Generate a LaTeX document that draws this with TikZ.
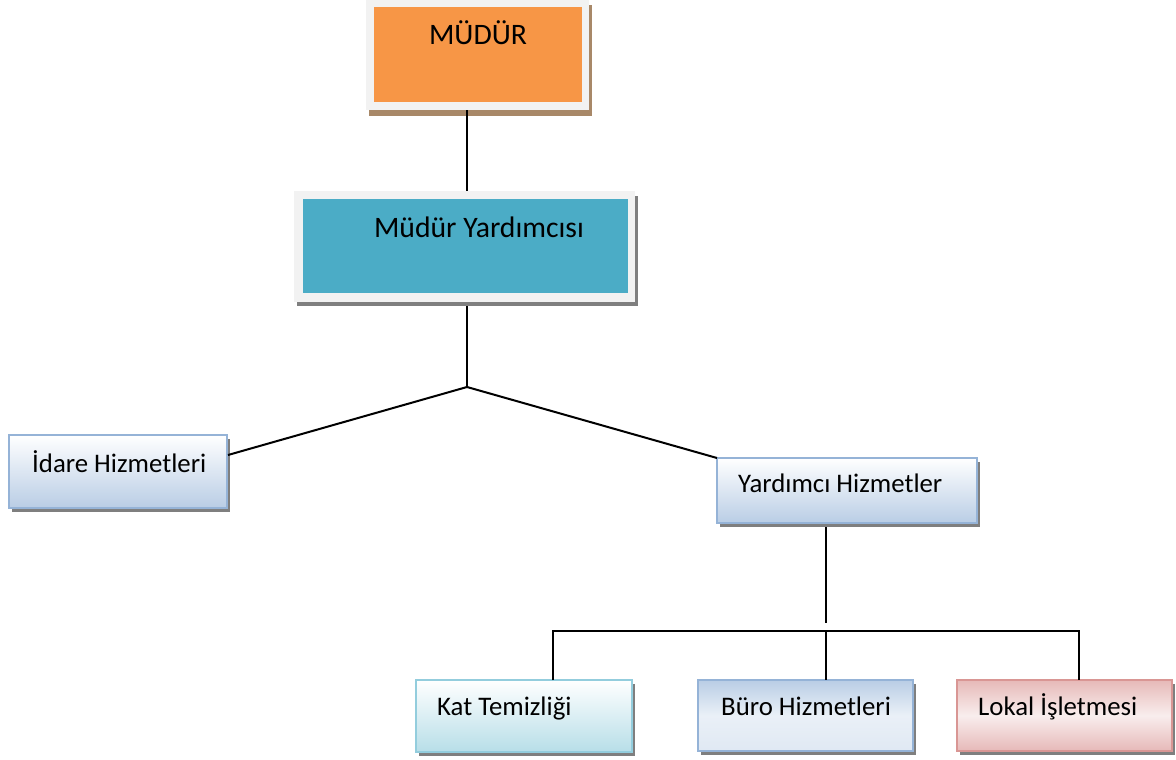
\documentclass[tikz,border=0pt]{standalone}
\usepackage{fontspec}
\setmainfont{Carlito}
\definecolor{orangeF}{HTML}{F79646}
\definecolor{tealF}{HTML}{4BACC6}
\definecolor{frameF}{HTML}{F2F2F2}
\definecolor{shadowB}{HTML}{A88868}
\definecolor{shadowG}{HTML}{7F7F7F}
\definecolor{blueB}{HTML}{95B3D7}
\definecolor{blueL}{HTML}{B9CDE5}
\definecolor{cyanB}{HTML}{93CDDD}
\definecolor{cyanL}{HTML}{B7DEE8}
\definecolor{redB}{HTML}{D99694}
\definecolor{redL}{HTML}{E6B9B8}
\tikzset{
  box/.style={rectangle, inner sep=0pt, outer sep=0pt, line width=1.5pt},
  bigtxt/.style={anchor=base, inner sep=0pt, font=\fontsize{29.7}{32}\selectfont},
  smalltxt/.style={anchor=base west, inner sep=0pt, font=\fontsize{26.8}{29}\selectfont},
  conn/.style={draw=black, line width=2pt},
}
\begin{document}
\begin{tikzpicture}[x=1pt,y=-1pt]
\useasboundingbox (0,0) rectangle (1176,760);
% ---------- MUDUR
\fill[shadowB] (369,5) rectangle (592,116);
\node[box, fill=frameF, minimum width=223pt, minimum height=110pt, anchor=north west] (mudurF) at (366,0) {};
\node[box, fill=orangeF, minimum width=208pt, minimum height=95pt, anchor=north west] (mudur) at (374,7) {};
\node[bigtxt] (mudurT) at (478,45) {MÜDÜR};
% ---------- Mudur Yardimcisi
\fill[shadowG] (297,196) rectangle (638,306);
\node[box, fill=frameF, minimum width=341pt, minimum height=111pt, anchor=north west] (yardF) at (294,191) {};
\node[box, fill=tealF, minimum width=325pt, minimum height=94pt, anchor=north west] (yard) at (303,199) {};
\node[bigtxt] (yardT) at (479,237) {Müdür Yardımcısı};
% ---------- Idare
\fill[shadowG] (12,439) rectangle (230,512);
\node[box, draw=blueB, top color=white, bottom color=blueL, minimum width=218pt, minimum height=73pt, anchor=north west] (idare) at (9,435) {};
\node[smalltxt] (idareT) at (32,472) {İdare Hizmetleri};
% ---------- Yardimci Hizmetler
\fill[shadowG] (720,462) rectangle (980,527);
\node[box, draw=blueB, top color=white, bottom color=blueL, minimum width=260pt, minimum height=65pt, anchor=north west] (yh) at (717,458) {};
\node[smalltxt] (yhT) at (738,492) {Yardımcı Hizmetler};
% ---------- Kat Temizligi
\fill[shadowG] (419,684) rectangle (635,756);
\node[box, draw=cyanB, top color=white, bottom color=cyanL, minimum width=216pt, minimum height=72pt, anchor=north west] (kat) at (416,680) {};
\node[smalltxt] (katT) at (437,715) {Kat Temizliği};
% ---------- Buro Hizmetleri
\fill[shadowG] (701,684) rectangle (916,755);
\node[box, draw=blueB, top color=blueL, bottom color=blueL!45!white, middle color=blueL!30!white, minimum width=215pt, minimum height=71pt, anchor=north west] (buro) at (698,680) {};
\node[smalltxt] (buroT) at (721,715) {Büro Hizmetleri};
% ---------- Lokal Isletmesi
\fill[shadowG] (960,684) rectangle (1175,755);
\node[box, draw=redB, top color=redL, bottom color=redL, middle color=redL!25!white, minimum width=215pt, minimum height=71pt, anchor=north west] (lokal) at (957,680) {};
\node[smalltxt] (lokalT) at (978,715) {Lokal İşletmesi};
% ---------- connectors
\coordinate (j1) at (467,387);
\coordinate (yhEnd) at (826,623);
\coordinate (hbarL) at (553,631);
\coordinate (hbarR) at (1079,631);
\coordinate (hbarM) at (826,631);
\coordinate (idareEnd) at (228,455);
\draw[conn] (mudurF.south -| j1) -- (yardF.north -| j1);
\draw[conn] (yardF.south -| j1) ++(0,4) -- (j1);
\draw[conn] (j1) -- (idareEnd);
\draw[conn] (j1) -- (yh.north west);
\draw[conn] (yh.south -| yhEnd) ++(0,4) -- (yhEnd);
\draw[conn] (kat.north -| hbarL) -- (hbarL) -- (hbarR) -- (lokal.north -| hbarR);
\draw[conn] (hbarM) -- (buro.north -| hbarM);
\end{tikzpicture}
\end{document}
